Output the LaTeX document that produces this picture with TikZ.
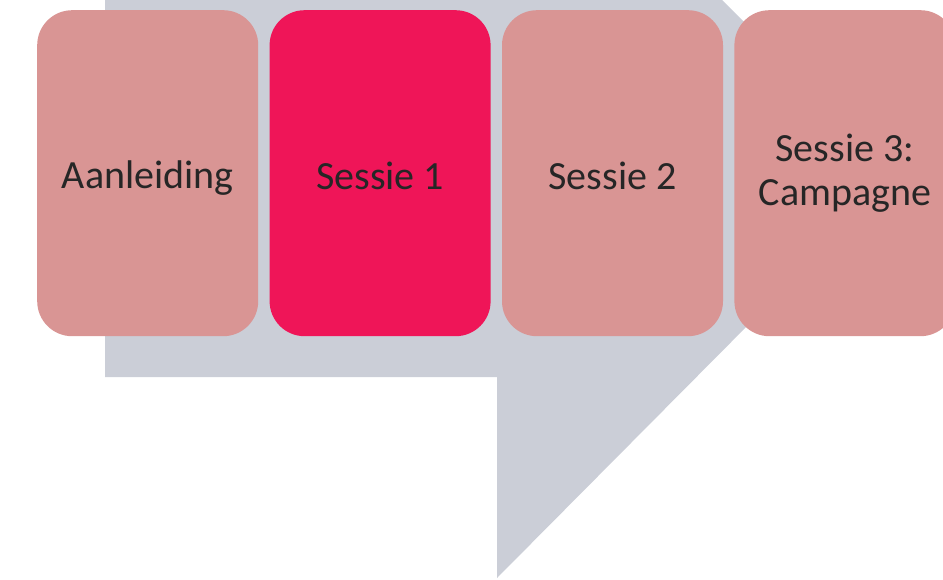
\documentclass[tikz,border=0pt]{standalone}
\usepackage{fontspec}
\setmainfont{Carlito}
\usepackage{xcolor}
\usetikzlibrary{positioning}
\definecolor{sessiepink}{RGB}{217,149,148}
\definecolor{sessieaccent}{RGB}{239,21,88}
\definecolor{pijlgrey}{RGB}{203,206,215}
\newcommand\sessiestrut{\rule[-6pt]{0pt}{44pt}}
\begin{document}
\begin{tikzpicture}[
  x=1pt, y=-1pt,
  sessiebox/.style={fill=sessiepink, rounded corners=35pt, minimum width=221pt, minimum height=326pt,
    inner sep=0pt, align=center, text=black!85, font=\fontsize{40}{44}\selectfont,
    execute at begin node=\sessiestrut, execute at end node=\sessiestrut},
  gap/.style={right=11pt of #1}
]
\useasboundingbox (0,0) rectangle (943,580);
\clip (0,0) rectangle (943,580);
% achtergrondpijl
\fill[pijlgrey] (105,0) -- (722,0) -- (897,175) -- (497,578) -- (497,377) -- (105,377) -- cycle;
\node[sessiebox, anchor=north west] (aanleiding) at (37,10) {Aanleiding};
\node[sessiebox, fill=sessieaccent, gap=aanleiding] (sessie1) {Sessie 1};
\node[sessiebox, gap=sessie1] (sessie2) {Sessie 2};
\node[sessiebox, gap=sessie2] (sessie3) {Sessie 3:\\Campagne};
\end{tikzpicture}
\end{document}
